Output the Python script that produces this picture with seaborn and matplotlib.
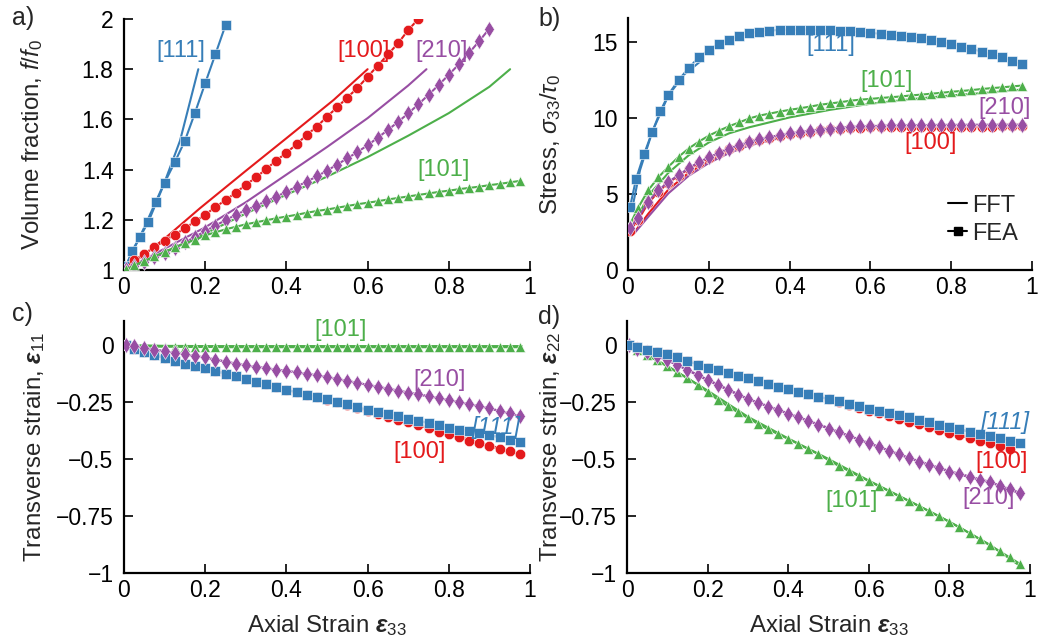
import matplotlib
matplotlib.use('Agg')
import matplotlib.pyplot as plt
import seaborn as sns
from matplotlib.lines import Line2D

# ---------------- data ----------------
strain = [0.005, 0.025, 0.05, 0.075, 0.1, 0.125, 0.15, 0.175, 0.2, 0.225, 0.25, 0.275, 0.3,
          0.325, 0.35, 0.375, 0.4, 0.425, 0.45, 0.475, 0.5, 0.525, 0.55, 0.575, 0.6, 0.625,
          0.65, 0.675, 0.7, 0.725, 0.75, 0.775, 0.8, 0.825, 0.85, 0.875, 0.9, 0.925, 0.95, 0.975]
strain_111 = [0.005, 0.02, 0.04, 0.06, 0.08, 0.1, 0.125, 0.15, 0.175, 0.2, 0.225, 0.25, 0.275,
              0.3, 0.325, 0.35, 0.375, 0.4, 0.425, 0.45, 0.475, 0.5, 0.525, 0.55, 0.575, 0.6,
              0.625, 0.65, 0.675, 0.7, 0.725, 0.75, 0.775, 0.8, 0.825, 0.85, 0.875, 0.9, 0.925,
              0.95, 0.975]

# a) volume fraction f/f0 (FEA)
a_fea_111 = [1.015, 1.077, 1.133, 1.192, 1.27, 1.348, 1.429, 1.515, 1.627, 1.744, 1.859, 1.975]
a_fea_100 = [1.005, 1.040, 1.064, 1.090, 1.117, 1.141, 1.166, 1.194, 1.220, 1.251, 1.278, 1.308,
             1.339, 1.369, 1.402, 1.436, 1.467, 1.501, 1.538, 1.571, 1.611, 1.648, 1.687, 1.725,
             1.770, 1.814, 1.859, 1.903, 1.956, 2.0]
a_fea_210 = [1.003, 1.015, 1.032, 1.05, 1.068, 1.088, 1.11, 1.132, 1.155, 1.177, 1.198, 1.22,
             1.238, 1.256, 1.274, 1.292, 1.312, 1.332, 1.352, 1.373, 1.396, 1.42, 1.445, 1.47,
             1.497, 1.527, 1.558, 1.59, 1.624, 1.66, 1.698, 1.737, 1.778, 1.82, 1.865, 1.912, 1.962]
a_fea_101 = [1.002, 1.018, 1.036, 1.054, 1.072, 1.09, 1.106, 1.12, 1.138, 1.15, 1.162, 1.172,
             1.182, 1.19, 1.198, 1.206, 1.213, 1.22, 1.228, 1.235, 1.241, 1.248, 1.255, 1.262,
             1.268, 1.274, 1.281, 1.287, 1.293, 1.299, 1.305, 1.311, 1.316, 1.322, 1.327, 1.332,
             1.338, 1.343, 1.349, 1.355]
# a) FFT
a_fft_x_111 = [0, 0.05, 0.1, 0.138, 0.183]
a_fft_111 = [1, 1.17, 1.35, 1.515, 1.80]
a_fft_x_100 = [0, 0.1, 0.187, 0.3, 0.4, 0.516, 0.6]
a_fft_100 = [1, 1.125, 1.246, 1.395, 1.525, 1.677, 1.80]
a_fft_x_210 = [0, 0.1, 0.2, 0.3, 0.4, 0.5, 0.6, 0.7, 0.745]
a_fft_210 = [1, 1.085, 1.17, 1.27, 1.38, 1.49, 1.605, 1.735, 1.80]
a_fft_x_101 = [0, 0.1, 0.2, 0.3, 0.4, 0.5, 0.6, 0.7, 0.8, 0.9, 0.951]
a_fft_101 = [1, 1.07, 1.145, 1.225, 1.30, 1.372, 1.45, 1.535, 1.625, 1.73, 1.80]

# b) stress sigma33/tau0 (FEA)
b_fea_111 = [4.15, 6.0, 7.65, 9.1, 10.45, 11.56, 12.5, 13.3, 14.0, 14.5, 14.9, 15.17, 15.42, 15.6,
             15.7, 15.77, 15.81, 15.83, 15.84, 15.83, 15.81, 15.79, 15.76, 15.72, 15.67, 15.62,
             15.56, 15.5, 15.43, 15.35, 15.25, 15.14, 15.01, 14.87, 14.72, 14.56, 14.39, 14.2,
             14.0, 13.78, 13.55]
b_fea_101 = [3.0, 4.1, 5.25, 6.1, 6.8, 7.45, 8.0, 8.45, 8.85, 9.17, 9.47, 9.72, 9.98, 10.17, 10.3,
             10.43, 10.55, 10.65, 10.76, 10.88, 10.97, 11.05, 11.15, 11.22, 11.27, 11.33, 11.38,
             11.43, 11.5, 11.55, 11.61, 11.67, 11.74, 11.79, 11.85, 11.92, 11.98, 12.03, 12.09, 12.15]
b_fea_100 = [2.6, 3.3, 4.4, 5.15, 5.75, 6.2, 6.65, 7.05, 7.4, 7.7, 7.98, 8.2, 8.4, 8.58, 8.72, 8.84,
             8.95, 9.04, 9.12, 9.2, 9.26, 9.31, 9.35, 9.38, 9.4, 9.41, 9.42, 9.43, 9.43, 9.44, 9.44,
             9.44, 9.45, 9.45, 9.45, 9.45, 9.45, 9.46, 9.46, 9.46]
b_fea_210 = [2.75, 3.45, 4.5, 5.25, 5.8, 6.25, 6.7, 7.1, 7.42, 7.72, 8.0, 8.22, 8.43, 8.62, 8.76,
             8.88, 9.0, 9.08, 9.17, 9.25, 9.32, 9.38, 9.42, 9.46, 9.48, 9.5, 9.52, 9.53, 9.54, 9.55,
             9.55, 9.56, 9.56, 9.56, 9.57, 9.57, 9.57, 9.57, 9.57, 9.57]
# b) FFT
b_fft_x_111 = [0.01, 0.03, 0.06, 0.1, 0.14, 0.182]
b_fft_111 = [4.0, 6.6, 9.1, 11.5, 12.9, 13.8]
b_fft_x = [0.015, 0.05, 0.1, 0.15, 0.2, 0.25, 0.3, 0.4, 0.5, 0.6, 0.7, 0.8, 0.9, 0.98]
b_fft_101 = [3.0, 4.9, 6.4, 7.55, 8.4, 9.0, 9.4, 10.05, 10.55, 10.95, 11.25, 11.5, 11.7, 11.9]
b_fft_100 = [2.45, 3.7, 5.3, 6.4, 7.2, 7.8, 8.3, 8.9, 9.2, 9.35, 9.4, 9.42, 9.43, 9.45]
b_fft_210 = [2.4, 3.5, 5.05, 6.2, 7.05, 7.7, 8.2, 8.85, 9.2, 9.4, 9.5, 9.53, 9.55, 9.56]

# c) transverse strain eps11 (FEA)
c_fea_101 = [0.0, -0.004, -0.006, -0.007, -0.008, -0.008, -0.009, -0.009, -0.009, -0.009, -0.01,
             -0.01, -0.01, -0.01, -0.01, -0.01, -0.01, -0.01, -0.01, -0.01, -0.01, -0.01, -0.01,
             -0.01, -0.01, -0.01, -0.01, -0.01, -0.01, -0.01, -0.01, -0.01, -0.01, -0.01, -0.01,
             -0.01, -0.01, -0.01, -0.01, -0.01]
c_fea_111 = [0.0, -0.018, -0.032, -0.045, -0.057, -0.07, -0.082, -0.092, -0.102, -0.114, -0.126,
             -0.138, -0.15, -0.161, -0.173, -0.185, -0.197, -0.207, -0.218, -0.229, -0.239, -0.25,
             -0.261, -0.273, -0.285, -0.294, -0.303, -0.313, -0.323, -0.333, -0.343, -0.353,
             -0.363, -0.371, -0.379, -0.387, -0.396, -0.405, -0.415, -0.425]
c_fea_100 = [0.0, -0.018, -0.032, -0.045, -0.057, -0.07, -0.082, -0.092, -0.102, -0.114, -0.126,
             -0.138, -0.15, -0.161, -0.173, -0.185, -0.197, -0.207, -0.218, -0.229, -0.24, -0.252,
             -0.265, -0.278, -0.29, -0.302, -0.315, -0.327, -0.34, -0.352, -0.366, -0.38, -0.392,
             -0.404, -0.42, -0.432, -0.445, -0.456, -0.467, -0.478]
c_fea_210 = [0.0, -0.006, -0.013, -0.02, -0.028, -0.034, -0.041, -0.048, -0.055, -0.064, -0.073,
             -0.082, -0.09, -0.096, -0.102, -0.108, -0.114, -0.12, -0.127, -0.133, -0.14, -0.149,
             -0.158, -0.166, -0.175, -0.183, -0.192, -0.2, -0.209, -0.217, -0.225, -0.233, -0.241,
             -0.25, -0.259, -0.268, -0.278, -0.289, -0.3, -0.312]
# c) FFT
cd_fft_x = [0, 0.1, 0.2, 0.3, 0.4, 0.5, 0.6, 0.7, 0.8, 0.9, 0.98]
c_fft_101 = [0, -0.004, -0.005, -0.005, -0.005, -0.005, -0.005, -0.005, -0.005, -0.005, -0.005]
c_fft_111 = [0, -0.058, -0.103, -0.15, -0.197, -0.24, -0.284, -0.322, -0.36, -0.394, -0.425]
c_fft_100 = [0, -0.058, -0.103, -0.15, -0.197, -0.24, -0.29, -0.338, -0.39, -0.44, -0.48]
c_fft_210 = [0, -0.028, -0.056, -0.09, -0.114, -0.14, -0.175, -0.209, -0.241, -0.278, -0.315]

# d) transverse strain eps22 (FEA)
d_fea_111 = [0.0, -0.01, -0.02, -0.03, -0.041, -0.055, -0.07, -0.086, -0.1, -0.112, -0.124, -0.136,
             -0.147, -0.158, -0.17, -0.183, -0.195, -0.205, -0.216, -0.227, -0.237, -0.247, -0.258,
             -0.269, -0.28, -0.289, -0.298, -0.308, -0.318, -0.328, -0.338, -0.349, -0.36, -0.37,
             -0.38, -0.39, -0.401, -0.41, -0.419, -0.428]
d_fea_100 = [0.0, -0.01, -0.02, -0.03, -0.041, -0.055, -0.07, -0.086, -0.1, -0.112, -0.124, -0.136,
             -0.147, -0.158, -0.17, -0.183, -0.195, -0.205, -0.216, -0.227, -0.237, -0.248, -0.262,
             -0.275, -0.288, -0.3, -0.312, -0.324, -0.336, -0.348, -0.36, -0.372, -0.384, -0.396,
             -0.408, -0.42, -0.432, -0.443, -0.455]
d_fea_210 = [0.0, -0.016, -0.033, -0.05, -0.068, -0.088, -0.11, -0.133, -0.155, -0.176, -0.197,
             -0.218, -0.238, -0.254, -0.27, -0.286, -0.302, -0.318, -0.334, -0.35, -0.367, -0.383,
             -0.399, -0.415, -0.432, -0.448, -0.464, -0.48, -0.497, -0.512, -0.527, -0.541, -0.556,
             -0.568, -0.58, -0.592, -0.603, -0.617, -0.632, -0.648]
d_fea_101 = [0.0, -0.022, -0.045, -0.068, -0.094, -0.12, -0.146, -0.174, -0.206, -0.24, -0.268,
             -0.295, -0.32, -0.346, -0.37, -0.391, -0.412, -0.434, -0.457, -0.479, -0.505, -0.53,
             -0.552, -0.575, -0.597, -0.619, -0.641, -0.663, -0.685, -0.707, -0.729, -0.752,
             -0.776, -0.8, -0.825, -0.851, -0.878, -0.905, -0.932, -0.96]
# d) FFT
d_fft_x_100 = [0, 0.1, 0.2, 0.3, 0.4, 0.5, 0.6, 0.7, 0.8, 0.9, 0.95]
d_fft_101 = [0, -0.092, -0.2, -0.315, -0.41, -0.5, -0.595, -0.684, -0.775, -0.876, -0.975]
d_fft_111 = [0, -0.041, -0.1, -0.147, -0.195, -0.237, -0.28, -0.318, -0.36, -0.401, -0.432]
d_fft_100 = [0, -0.041, -0.1, -0.147, -0.195, -0.237, -0.288, -0.336, -0.384, -0.432, -0.455]
d_fft_210 = [0, -0.066, -0.152, -0.236, -0.3, -0.364, -0.43, -0.495, -0.553, -0.6, -0.655]

x_ticks = [0, 0.2, 0.4, 0.6, 0.8, 1]
x_tick_labels = ['0', '0.2', '0.4', '0.6', '0.8', '1']
a_ticks = [1, 1.2, 1.4, 1.6, 1.8, 2]
a_tick_labels = ['1', '1.2', '1.4', '1.6', '1.8', '2']
b_ticks = [0, 5, 10, 15]
b_tick_labels = ['0', '5', '10', '15']
cd_ticks = [0, -0.25, -0.5, -0.75, -1]
cd_tick_labels = ['0', '\u22120.25', '\u22120.5', '\u22120.75', '\u22121']

# ---------------- style ----------------
sns.set_theme(style='ticks')
plt.rcParams['font.family'] = ['Liberation Sans', 'DejaVu Sans']
plt.rcParams['mathtext.fontset'] = 'custom'
plt.rcParams['mathtext.rm'] = 'Liberation Sans'
plt.rcParams['mathtext.it'] = 'Liberation Sans:italic'
plt.rcParams['mathtext.bf'] = 'Liberation Sans:italic:bold'

BLUE = '#377eb8'
RED = '#e41a1c'
GREEN = '#4daf4a'
PURPLE = '#984ea3'

fig = plt.figure(figsize=(10.38, 6.41), dpi=100)
fig.patch.set_facecolor('white')
axa = fig.add_axes([124 / 1038, 1 - 270 / 641, 406 / 1038, 251 / 641])
axb = fig.add_axes([628 / 1038, 1 - 270 / 641, 404 / 1038, 252 / 641])
axc = fig.add_axes([124 / 1038, 1 - 573 / 641, 406 / 1038, 252 / 641])
axd = fig.add_axes([627 / 1038, 1 - 573 / 641, 403 / 1038, 252 / 641])

TICK = 16.5


def style(ax, yticks, ylabels, ylim):
    ax.set_facecolor('white')
    ax.grid(False)
    for s in ['top', 'right']:
        ax.spines[s].set_visible(False)
    for s in ['left', 'bottom']:
        ax.spines[s].set_linewidth(1.6)
        ax.spines[s].set_color('black')
    ax.set_xlim(0, 1)
    ax.set_ylim(*ylim)
    ax.set_xticks(x_ticks)
    ax.set_xticklabels(x_tick_labels)
    ax.set_yticks(yticks)
    ax.set_yticklabels(ylabels)
    ax.tick_params(direction='in', length=6.8, width=1.2, labelsize=TICK, colors='black')
    ax.tick_params(axis='x', pad=4.5)
    ax.tick_params(axis='y', pad=7.5)


def fea(ax, x, y, color, marker, ms):
    sns.lineplot(x=x, y=y, ax=ax, color=color, marker=marker, markersize=ms, linewidth=1.5,
                 markeredgecolor='white', markeredgewidth=0.4, estimator=None, sort=False,
                 legend=False, zorder=3)


def fft(ax, x, y, color):
    sns.lineplot(x=x, y=y, ax=ax, color=color, linewidth=1.5, estimator=None, sort=False,
                 legend=False, zorder=2)


MS_SQ, MS_O, MS_T, MS_D = 7, 7.5, 7.5, 8.5

# panel a
fft(axa, a_fft_x_111, a_fft_111, BLUE)
fft(axa, a_fft_x_100, a_fft_100, RED)
fft(axa, a_fft_x_210, a_fft_210, PURPLE)
fft(axa, a_fft_x_101, a_fft_101, GREEN)
fea(axa, strain_111[:len(a_fea_111)], a_fea_111, BLUE, 's', MS_SQ)
fea(axa, strain[:len(a_fea_100)], a_fea_100, RED, 'o', MS_O)
fea(axa, strain[:len(a_fea_210)], a_fea_210, PURPLE, 'd', MS_D)
fea(axa, strain[:len(a_fea_101)], a_fea_101, GREEN, '^', MS_T)
style(axa, a_ticks, a_tick_labels, (1, 2))

# panel b
fft(axb, b_fft_x_111, b_fft_111, BLUE)
fft(axb, b_fft_x, b_fft_101, GREEN)
fft(axb, b_fft_x, b_fft_100, RED)
fft(axb, b_fft_x, b_fft_210, PURPLE)
fea(axb, strain_111, b_fea_111, BLUE, 's', MS_SQ)
fea(axb, strain, b_fea_101, GREEN, '^', MS_T)
fea(axb, strain, b_fea_100, RED, 'o', MS_O)
fea(axb, strain, b_fea_210, PURPLE, 'd', MS_D)
style(axb, b_ticks, b_tick_labels, (0, 16.6))

# panel c
fft(axc, cd_fft_x, c_fft_101, GREEN)
fft(axc, cd_fft_x, c_fft_100, RED)
fft(axc, cd_fft_x, c_fft_111, BLUE)
fft(axc, cd_fft_x, c_fft_210, PURPLE)
fea(axc, strain, c_fea_101, GREEN, '^', MS_T)
fea(axc, strain, c_fea_100, RED, 'o', MS_O)
fea(axc, strain, c_fea_111, BLUE, 's', MS_SQ)
fea(axc, strain, c_fea_210, PURPLE, 'd', MS_D)
style(axc, cd_ticks, cd_tick_labels, (-1, 0.105))

# panel d
fft(axd, cd_fft_x, d_fft_101, GREEN)
fft(axd, cd_fft_x, d_fft_210, PURPLE)
fft(axd, d_fft_x_100, d_fft_100, RED)
fft(axd, cd_fft_x, d_fft_111, BLUE)
fea(axd, strain, d_fea_101, GREEN, '^', MS_T)
fea(axd, strain, d_fea_210, PURPLE, 'd', MS_D)
fea(axd, strain[:len(d_fea_100)], d_fea_100, RED, 'o', MS_O)
fea(axd, strain, d_fea_111, BLUE, 's', MS_SQ)
style(axd, cd_ticks, cd_tick_labels, (-1, 0.105))

# annotations
ANN = 17
def ann(ax, x, y, s, color, italic=False):
    ax.text(x, y, s, color=color, fontsize=ANN, ha='center', va='center',
            style='italic' if italic else 'normal', zorder=5)

ann(axa, 0.141, 1.873, '[111]', BLUE)
ann(axa, 0.589, 1.873, '[100]', RED)
ann(axa, 0.783, 1.873, '[210]', PURPLE)
ann(axa, 0.788, 1.40, '[101]', GREEN)

ann(axb, 0.502, 14.8, '[111]', BLUE)
ann(axb, 0.639, 12.43, '[101]', GREEN)
ann(axb, 0.933, 10.66, '[210]', PURPLE)
ann(axb, 0.748, 8.36, '[100]', RED)

ann(axc, 0.534, 0.066, '[101]', GREEN)
ann(axc, 0.778, -0.153, '[210]', PURPLE)
ann(axc, 0.727, -0.47, '[100]', RED)
ann(axc, 0.916, -0.36, '[111]', BLUE, italic=True)

ann(axd, 0.938, -0.342, '[111]', BLUE, italic=True)
ann(axd, 0.93, -0.513, '[100]', RED)
ann(axd, 0.896, -0.671, '[210]', PURPLE)
ann(axd, 0.558, -0.684, '[101]', GREEN)

# axis labels
LAB = 17.3
axa.set_ylabel('Volume fraction, $f/f_0$', fontsize=LAB)
axa.yaxis.set_label_coords(-0.195, 0.5)
axb.set_ylabel(r'Stress, $\sigma_{33}/\tau_0$', fontsize=LAB)
axb.yaxis.set_label_coords(-0.161, 0.5)
axc.set_ylabel(r'Transverse strain, $\mathbf{\varepsilon}_{11}$', fontsize=LAB)
axc.yaxis.set_label_coords(-0.19, 0.5)
axd.set_ylabel(r'Transverse strain, $\mathbf{\varepsilon}_{22}$', fontsize=LAB)
axd.yaxis.set_label_coords(-0.159, 0.5)
for ax in (axc, axd):
    ax.set_xlabel(r'Axial Strain $\mathbf{\varepsilon}_{33}$', fontsize=LAB)
    ax.xaxis.set_label_coords(0.5, -0.159)

# legend
handles = [Line2D([], [], color='black', lw=1.5),
           Line2D([], [], color='black', lw=1.5, marker='s', ms=6)]
axb.legend(handles, ['FFT', 'FEA'], loc='center', bbox_to_anchor=(0.879, 0.2), frameon=False,
           fontsize=17, handlelength=0.8, handletextpad=0.2, labelspacing=0.25)

# panel letters
for s, px, py in [('a)', 12, 18), ('b)', 538, 19), ('c)', 12, 314), ('d)', 538, 317)]:
    fig.text(px / 1038, 1 - py / 641, s, fontsize=18, ha='left', va='center')

fig.savefig('out.png', dpi=100, facecolor='white')
